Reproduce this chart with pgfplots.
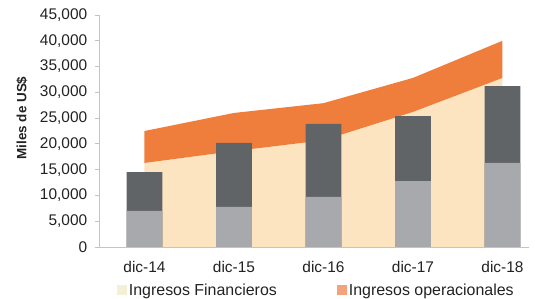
\documentclass[border=0pt]{standalone}
\usepackage{pgfplots}
\pgfplotsset{compat=1.18}
\usepackage{fontspec}
\setmainfont{Liberation Sans}
\definecolor{beige}{HTML}{FCE4C0}
\definecolor{naranja}{HTML}{EF7D3C}
\definecolor{naranjaleg}{HTML}{F4A27C}
\definecolor{beigeleg}{HTML}{F4F0D6}
\definecolor{grisclaro}{HTML}{A7A9AC}
\definecolor{grisoscuro}{HTML}{606466}
\definecolor{ejes}{HTML}{C4C4C4}
\definecolor{texto}{HTML}{222222}
\begin{document}
\begin{tikzpicture}
\begin{axis}[
  scale only axis, width=429.6bp, height=232bp,
  xmin=-0.5, xmax=4.3, ymin=0, ymax=45000,
  axis x line*=bottom, axis y line*=left,
  axis line style={draw=ejes, line width=0.8pt},
  xtick={0,1,2,3,4},
  xticklabels={dic-14,dic-15,dic-16,dic-17,dic-18},
  ytick={0,5000,...,45000},
  scaled y ticks=false,
  /pgf/number format/.cd, 1000 sep={,}, assume math mode=true, /pgfplots/.cd,
  tick align=outside,
  major tick length=5bp,
  ytick style={draw=ejes, line width=0.8pt},
  xtick style={draw=none},
  ticklabel style={font=\fontsize{15.5}{17}\selectfont, text=texto},
  yticklabel style={xshift=-4bp},
  xticklabel style={yshift=-6bp},
  ylabel={Miles de US\$},
  ylabel style={font=\bfseries\fontsize{13.5}{15}\selectfont, text=texto, at={(axis description cs:-0.160,0.556)}, anchor=south},
  legend style={draw=none, fill=none, at={(axis description cs:0.040,-0.222)}, anchor=south west, legend columns=2,
    font=\fontsize{16}{17}\selectfont, text=texto,
    /tikz/every even column/.append style={column sep=58bp},
    inner sep=0pt, outer sep=0pt},
  legend cell align=left,
]
% Ingresos Financieros (area)
\addplot[fill=beige, draw=none,
  legend image code/.code={\fill[beigeleg] (0bp,-5bp) rectangle (10bp,5bp);}]
  coordinates {(0,16300) (1,18600) (2,20700) (3,26200) (4,32800)} \closedcycle;
\addlegendentry{Ingresos Financieros}
% Ingresos operacionales (band on top)
\addplot[fill=naranja, draw=none,
  legend image code/.code={\fill[naranjaleg] (0bp,-5bp) rectangle (10bp,5bp);}]
  coordinates {(0,22500) (1,26000) (2,27900) (3,32800) (4,40000)
               (4,32800) (3,26200) (2,20700) (1,18600) (0,16300)} -- cycle;
\addlegendentry{Ingresos operacionales}
% bars: total (dark) then lower part (light)
\addplot[ybar, bar width=35.8bp, bar shift=0pt, fill=grisoscuro, draw=none, forget plot]
  coordinates {(0,14500) (1,20200) (2,23900) (3,25400) (4,31200)};
\addplot[ybar, bar width=35.8bp, bar shift=0pt, fill=grisclaro, draw=none, forget plot]
  coordinates {(0,7000) (1,7800) (2,9700) (3,12800) (4,16300)};
\end{axis}
\path[use as bounding box] (-99.75bp,-52bp) rectangle (435.25bp,247bp);
\end{tikzpicture}
\end{document}
